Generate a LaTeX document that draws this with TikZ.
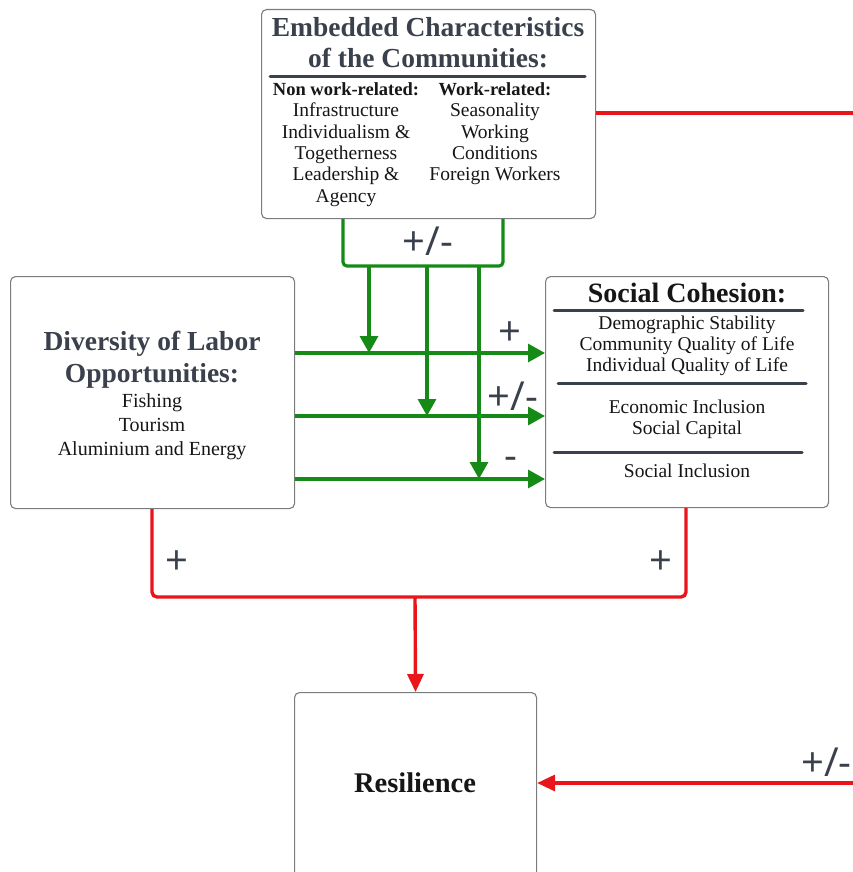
\documentclass[tikz,border=0pt]{standalone}
\usepackage{fontspec}
\setmainfont{Liberation Serif}
\newfontfamily\signfont{Open Sans}
\usetikzlibrary{arrows.meta}
\definecolor{slate}{HTML}{3A414C}
\definecolor{frame}{HTML}{7C7C7C}
\definecolor{ink}{HTML}{161616}
\definecolor{linkred}{HTML}{E8151B}
\definecolor{linkgreen}{HTML}{168A16}
\begin{document}
\begin{tikzpicture}[x=1pt,y=-1pt,
  box/.style={draw=frame,line width=1.1pt,rounded corners=5pt,fill=white,inner sep=0pt,anchor=north west},
  rulebar/.style={draw=slate,line width=3pt,line cap=round},
  gpath/.style={draw=linkgreen,line width=3.2pt,rounded corners=4pt},
  garrow/.style={draw=linkgreen,line width=3.2pt,-{Triangle[length=17pt,width=18pt]}},
  rpath/.style={draw=linkred,line width=3.4pt,rounded corners=5pt},
  rarrow/.style={draw=linkred,line width=3.4pt,-{Triangle[length=18pt,width=16pt]}},
  ln/.style={anchor=base,inner sep=0pt,text=ink,font=\fontsize{19.5}{22}\selectfont},
  sub/.style={anchor=base,inner sep=0pt,text=ink,font=\fontsize{18.5}{21}\selectfont\bfseries},
  head/.style={anchor=base,inner sep=0pt,text=slate,font=\fontsize{27.5}{30}\selectfont\bfseries},
  blackhead/.style={anchor=base,inner sep=0pt,text=ink,font=\fontsize{28}{30}\selectfont\bfseries},
  sign/.style={inner sep=0pt,text=slate,font=\signfont\fontsize{40}{44}\selectfont}]

\useasboundingbox (0,0) rectangle (852,872);

% ---- boxes ----
\node[box,minimum width=334pt,minimum height=209pt] (emb) at (261,9) {};
\node[box,minimum width=284pt,minimum height=232pt] (div) at (10,276) {};
\node[box,minimum width=283pt,minimum height=231pt] (sc) at (545,276) {};
\node[box,minimum width=242pt,minimum height=220pt] (res) at (294,692) {};

% ---- embedded characteristics ----
\node[head] (embT1) at (428,37) {Embedded Characteristics};
\node[head] (embT2) at (428,68) {of the Communities:};
\draw[rulebar] (270,77) -- (585,77);
\node[sub] (nonwork) at (346,96) {Non work-related:};
\node[sub] (work) at (495,96) {Work-related:};
\foreach \t [count=\i] in {Infrastructure,Individualism \&,Togetherness,Leadership \&,Agency}
  \node[ln] (nw\i) at (346,{117+21.3*(\i-1)}) {\t};
\foreach \t [count=\i] in {Seasonality,Working,Conditions,Foreign Workers}
  \node[ln] (wr\i) at (495,{117+21.3*(\i-1)}) {\t};

% ---- diversity of labor ----
\node[head] (divT1) at (152,350) {Diversity of Labor};
\node[head] (divT2) at (152,382) {Opportunities:};
\node[ln,font=\fontsize{20}{22}\selectfont] (fish) at (152,407) {Fishing};
\node[ln,font=\fontsize{20}{22}\selectfont] (tour) at (152,431) {Tourism};
\node[ln,font=\fontsize{20}{22}\selectfont] (alu) at (152,455) {Aluminium and Energy};

% ---- social cohesion ----
\node[blackhead] (scT) at (687,302) {Social Cohesion:};
\draw[rulebar] (554,310) -- (803,310);
\draw[rulebar] (558,383) -- (806,383);
\draw[rulebar] (554,452) -- (802,452);
\node[ln] (sc1) at (687,329) {Demographic Stability};
\node[ln] (sc2) at (687,350) {Community Quality of Life};
\node[ln] (sc3) at (687,371) {Individual Quality of Life};
\node[ln] (sc4) at (687,413) {Economic Inclusion};
\node[ln] (sc5) at (687,434) {Social Capital};
\node[ln] (sc6) at (687,477) {Social Inclusion};

% ---- resilience ----
\node[blackhead,font=\fontsize{28.5}{30}\selectfont\bfseries] (resT) at (415,792) {Resilience};

% ---- moderating (green) links ----
\coordinate (gbarL) at (343,266);
\coordinate (gbarR) at (503,266);
\draw[gpath] (343,0 |- emb.south) -- (gbarL) -- (gbarR) -- (503,0 |- emb.south);
\coordinate (hA) at (369,353);
\coordinate (hB) at (427,416);
\coordinate (hC) at (479,479);
\draw[garrow] (369,266) -- (hA);
\draw[garrow] (427,266) -- (hB);
\draw[garrow] (479,266) -- (hC);
\draw[garrow] (div.east |- hA) -- (sc.west |- hA);
\draw[garrow] (div.east |- hB) -- (sc.west |- hB);
\draw[garrow] (div.east |- hC) -- (sc.west |- hC);

\node[sign] (sgTop) at (428,241) {+/-};
\node[sign] (sgA) at (510,334) {+};
\node[sign] (sgB) at (513,396) {+/-};
\node[sign] (sgC) at (511,463) {-};

% ---- direct (red) links ----
\coordinate (edgeTop) at (856,113);
\draw[rpath] (emb.east |- edgeTop) -- (edgeTop);
\coordinate (join) at (415,597);
\draw[rpath] (152,0 |- div.south) |- (join) -| (686,0 |- sc.south);
\draw[rarrow] (join) -- (res.north);
\coordinate (edgeBot) at (856,783);
\draw[rarrow] (edgeBot) -- (res.east |- edgeBot);

\node[sign] (sgL) at (177,563) {+};
\node[sign] (sgR) at (661,563) {+};
\node[sign,anchor=west] (sgRes) at (801,762) {+/-};
\end{tikzpicture}
\end{document}
